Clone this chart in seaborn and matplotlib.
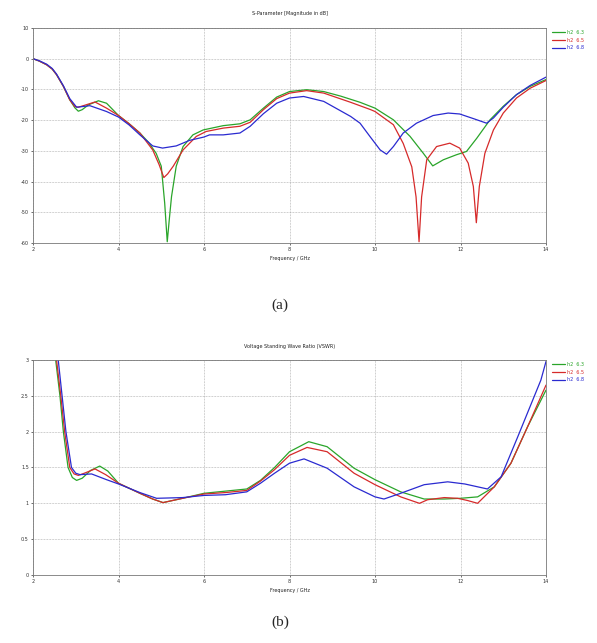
import numpy as np
import pandas as pd
import matplotlib
matplotlib.use("Agg")
import matplotlib.pyplot as plt
import seaborn as sns

labels = ["h2  6.3", "h2  6.5", "h2  6.8"]
colors = ["#2aa52a", "#d62a2a", "#2a2ad0"]

# S11 (dB)
s_f_63 = [2.0, 2.15, 2.32, 2.45, 2.55, 2.71, 2.86, 2.98, 3.06, 3.15, 3.3, 3.53, 3.72, 4.0, 4.25, 4.5, 4.7, 4.88, 5.0, 5.08, 5.14, 5.19, 5.24, 5.35, 5.51, 5.74, 5.98, 6.45, 6.84, 7.08, 7.39, 7.7, 8.0, 8.4, 8.8, 9.2, 9.65, 10.0, 10.43, 10.82, 11.13, 11.35, 11.6, 11.9, 12.14, 12.38, 12.69, 13.0, 13.31, 13.63, 14.0]
s_v_63 = [0.0, -0.8, -2.0, -3.4, -5.2, -9.0, -13.4, -16.0, -17.1, -16.6, -15.0, -13.7, -14.5, -18.5, -21.2, -24.2, -27.2, -30.8, -35.0, -47.0, -59.6, -52.0, -44.9, -35.0, -28.6, -24.8, -23.2, -21.8, -21.2, -19.9, -16.1, -12.5, -10.7, -10.1, -10.7, -12.2, -14.2, -16.1, -19.9, -25.3, -30.8, -34.9, -32.9, -31.3, -30.2, -25.9, -19.9, -15.5, -11.7, -9.0, -6.8]
s_f_65 = [2.0, 2.15, 2.32, 2.45, 2.55, 2.71, 2.86, 2.98, 3.06, 3.2, 3.45, 3.72, 4.0, 4.25, 4.5, 4.8, 4.95, 5.06, 5.15, 5.28, 5.51, 5.82, 6.05, 6.45, 6.84, 7.08, 7.39, 7.7, 8.0, 8.4, 8.8, 9.43, 9.9, 10.0, 10.43, 10.66, 10.86, 10.96, 11.03, 11.09, 11.21, 11.44, 11.75, 11.98, 12.18, 12.3, 12.37, 12.44, 12.57, 12.77, 13.0, 13.31, 13.63, 14.0]
s_v_65 = [0.0, -0.8, -2.0, -3.4, -5.2, -9.0, -13.4, -15.6, -15.8, -15.2, -14.1, -16.1, -18.5, -21.2, -24.2, -29.7, -34.5, -38.7, -37.5, -35.0, -29.7, -25.3, -23.7, -22.6, -22.0, -20.7, -16.6, -13.0, -11.2, -10.4, -11.2, -14.2, -16.6, -17.2, -21.5, -27.6, -35.2, -45.0, -59.6, -45.0, -32.9, -28.6, -27.5, -29.1, -34.0, -41.6, -53.4, -41.6, -30.8, -23.2, -17.7, -12.8, -9.6, -7.1]
s_f_68 = [2.0, 2.15, 2.32, 2.45, 2.55, 2.71, 2.86, 3.02, 3.15, 3.33, 3.72, 4.0, 4.25, 4.5, 4.8, 5.03, 5.35, 5.66, 6.0, 6.13, 6.45, 6.84, 7.08, 7.39, 7.7, 8.0, 8.33, 8.8, 9.43, 9.65, 9.88, 10.12, 10.27, 10.43, 10.66, 10.97, 11.36, 11.71, 11.98, 12.3, 12.61, 12.77, 13.0, 13.31, 13.63, 14.0]
s_v_68 = [0.0, -0.7, -1.8, -3.2, -5.0, -8.8, -13.0, -15.8, -15.6, -15.3, -17.2, -19.0, -21.6, -24.8, -28.4, -29.1, -28.4, -26.6, -25.5, -24.8, -24.8, -24.2, -22.0, -17.9, -14.5, -12.8, -12.3, -13.9, -18.8, -21.0, -25.3, -29.7, -31.1, -28.6, -24.2, -21.0, -18.5, -17.7, -18.0, -19.5, -21.0, -19.3, -15.8, -11.7, -8.7, -6.0]

# VSWR
v_f_63 = [2.53, 2.63, 2.71, 2.82, 2.92, 3.02, 3.15, 3.35, 3.56, 3.75, 4.0, 4.5, 4.8, 5.04, 5.5, 6.0, 6.5, 7.0, 7.32, 7.65, 8.0, 8.45, 8.88, 9.51, 10.0, 10.6, 11.15, 11.62, 12.0, 12.4, 12.79, 13.18, 13.57, 14.0]
v_v_63 = [3.0, 2.5, 2.0, 1.5, 1.36, 1.32, 1.35, 1.46, 1.52, 1.45, 1.28, 1.14, 1.06, 1.01, 1.07, 1.14, 1.17, 1.2, 1.32, 1.5, 1.72, 1.86, 1.79, 1.49, 1.33, 1.16, 1.06, 1.06, 1.07, 1.09, 1.23, 1.56, 2.07, 2.58]
v_f_65 = [2.55, 2.65, 2.74, 2.86, 2.96, 3.06, 3.2, 3.45, 3.7, 4.0, 4.5, 4.8, 5.04, 5.5, 6.0, 6.5, 7.0, 7.32, 7.65, 8.0, 8.41, 8.88, 9.51, 10.0, 10.6, 11.04, 11.23, 11.62, 11.93, 12.16, 12.4, 12.79, 13.18, 13.57, 14.0]
v_v_65 = [3.0, 2.5, 2.0, 1.5, 1.41, 1.39, 1.42, 1.48, 1.4, 1.28, 1.14, 1.06, 1.01, 1.07, 1.13, 1.15, 1.18, 1.31, 1.47, 1.67, 1.78, 1.72, 1.42, 1.26, 1.09, 1.0, 1.05, 1.08, 1.07, 1.04, 1.0, 1.23, 1.56, 2.07, 2.65]
v_f_68 = [2.59, 2.68, 2.77, 2.9, 3.0, 3.1, 3.37, 3.72, 4.0, 4.5, 4.89, 5.5, 6.0, 6.5, 7.0, 7.32, 7.65, 8.0, 8.34, 8.88, 9.51, 10.0, 10.21, 10.6, 11.15, 11.7, 12.1, 12.63, 12.95, 13.34, 13.88, 14.0]
v_v_68 = [3.0, 2.5, 2.0, 1.5, 1.42, 1.4, 1.41, 1.33, 1.27, 1.15, 1.07, 1.08, 1.11, 1.12, 1.16, 1.28, 1.42, 1.56, 1.62, 1.49, 1.23, 1.09, 1.06, 1.14, 1.26, 1.3, 1.27, 1.2, 1.37, 1.93, 2.72, 2.98]

x_ticks = [2, 4, 6, 8, 10, 12, 14]
s_ticks = [-60, -50, -40, -30, -20, -10, 0, 10]
v_ticks = [0, 0.5, 1, 1.5, 2, 2.5, 3]
v_ticklabels = ["0", "0.5", "1", "1.5", "2", "2.5", "3"]


def make_df(fs, vs):
    parts = []
    for lab, f, v in zip(labels, fs, vs):
        parts.append(pd.DataFrame({"freq": f, "val": v, "series": lab}))
    return pd.concat(parts, ignore_index=True)


df_s = make_df([s_f_63, s_f_65, s_f_68], [s_v_63, s_v_65, s_v_68])
df_v = make_df([v_f_63, v_f_65, v_f_68], [v_v_63, v_v_65, v_v_68])

sns.set_theme(style="white")
plt.rcParams['font.family'] = ['DejaVu Sans']
plt.rcParams['lines.solid_joinstyle'] = 'round'

fig = plt.figure(figsize=(5.97, 6.43), dpi=100)
ax1 = fig.add_axes([0.0553, 0.6221, 0.8593, 0.3344])
ax2 = fig.add_axes([0.0553, 0.1058, 0.8593, 0.3343])

palette = dict(zip(labels, colors))
fs_small = 3.5


def style(ax, title, yticks, yticklabels, ylim):
    ax.set_xlim(2, 14)
    ax.set_ylim(*ylim)
    ax.set_xticks(x_ticks)
    ax.set_xticklabels([str(t) for t in x_ticks])
    ax.set_yticks(yticks)
    ax.set_yticklabels(yticklabels)
    ax.tick_params(labelsize=fs_small, length=1.5, width=0.5, pad=1.5,
                   colors="#333333", left=True, bottom=True)
    ax.grid(True, color="#a0a0a0", linestyle=(0, (1, 1.2)), linewidth=0.5)
    for sp in ax.spines.values():
        sp.set_color("#777777")
        sp.set_linewidth(0.6)
    ax.set_title(title, fontsize=fs_small, pad=9, color="#222222")
    ax.set_xlabel("Frequency / GHz", fontsize=fs_small, labelpad=3, color="#222222")
    ax.set_ylabel("")
    leg = ax.legend(loc="upper left", bbox_to_anchor=(1.008, 1.0), frameon=False,
                    fontsize=fs_small, handlelength=2.6, labelspacing=0.55,
                    borderaxespad=0.0, handletextpad=0.4)
    for txt, c in zip(leg.get_texts(), colors):
        txt.set_color(c)
    for h in leg.get_lines():
        h.set_linewidth(0.9)


sns.lineplot(data=df_s, x="freq", y="val", hue="series", palette=palette,
             ax=ax1, linewidth=0.9, sort=False, estimator=None)
style(ax1, "S-Parameter [Magnitude in dB]", s_ticks,
      [str(t) for t in s_ticks], (-60, 10))

sns.lineplot(data=df_v, x="freq", y="val", hue="series", palette=palette,
             ax=ax2, linewidth=0.9, sort=False, estimator=None)
style(ax2, "Voltage Standing Wave Ratio (VSWR)", v_ticks, v_ticklabels, (0, 3))

fig.text(0.469, 1 - 305 / 643, "(a)", ha="center", va="center",
         fontsize=11, family="Liberation Serif")
fig.text(0.469, 1 - 622 / 643, "(b)", ha="center", va="center",
         fontsize=11, family="Liberation Serif")

fig.savefig("out.png", dpi=100, facecolor="white")
